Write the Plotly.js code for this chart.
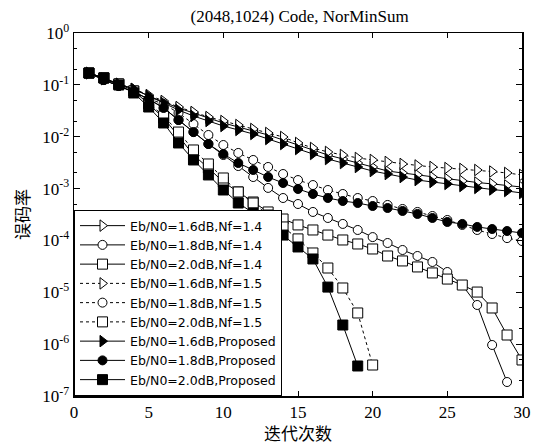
<!DOCTYPE html>
<html>
<head>
<meta charset="utf-8">
<script src="https://cdn.plot.ly/plotly-3.0.1.min.js"></script>
<style>html,body{margin:0;padding:0;background:#fff;}#chart{width:539px;height:445px;}</style>
</head>
<body>
<div id="chart"></div>
<script>
// iteration numbers
const iters30 = [1,2,3,4,5,6,7,8,9,10,11,12,13,14,15,16,17,18,19,20,21,22,23,24,25,26,27,28,29,30];
const iters29 = iters30.slice(0, 29);
const iters20 = iters30.slice(0, 20);
const iters19 = iters30.slice(0, 19);

// BER series
const nf14_16 = [0.169,0.130,0.104,0.0832,0.0610,0.0468,0.0358,0.0287,0.0230,0.0184,0.0154,0.0129,0.0108,0.00865,0.00692,0.00555,0.00444,0.00372,0.00311,0.00261,0.00218,0.00200,0.00183,0.00167,0.00153,0.00140,0.00131,0.00123,0.00115,0.00107];
const nf14_18 = [0.169,0.124,0.0951,0.0728,0.0534,0.0358,0.0210,0.0123,0.00724,0.00444,0.00272,0.00167,0.00103,0.000658,0.000504,0.000354,0.000271,0.000208,0.000159,0.000116,8.92e-5,6.54e-5,5.01e-5,3.84e-5,2.46e-5,1.38e-5,5.69e-6,9.63e-7,1.86e-7];
const nf14_20 = [0.169,0.136,0.104,0.0762,0.0428,0.0230,0.0103,0.00444,0.00249,0.00134,0.000859,0.000551,0.000354,0.000259,0.000199,0.000159,0.000127,0.000102,8.54e-5,6.84e-5,5.01e-5,4.02e-5,3.08e-5,2.36e-5,1.80e-5,1.38e-5,1.01e-5,4.98e-6,1.50e-6,4.95e-7];
const nf15_16 = [0.169,0.130,0.104,0.0832,0.0637,0.0489,0.0374,0.0300,0.0240,0.0201,0.0168,0.0141,0.0118,0.00988,0.00757,0.00606,0.00508,0.00444,0.00389,0.00356,0.00326,0.00298,0.00279,0.00261,0.00249,0.00239,0.00228,0.00213,0.00200,0.00183];
const nf15_18 = [0.169,0.124,0.0951,0.0728,0.0534,0.0428,0.0287,0.0176,0.0108,0.00692,0.00486,0.00356,0.00261,0.00191,0.00146,0.00117,0.000939,0.000786,0.000658,0.000576,0.000483,0.000404,0.000354,0.000296,0.000248,0.000199,0.000159,0.000133,0.000111,9.75e-5];
const nf15_20 = [0.169,0.136,0.104,0.0762,0.0447,0.0251,0.0123,0.00555,0.00298,0.00160,0.000859,0.000527,0.000309,0.000182,0.000107,5.73e-5,2.94e-5,1.21e-5,3.99e-6,3.96e-7];
const prop_16 = [0.169,0.130,0.104,0.0832,0.0610,0.0447,0.0327,0.0251,0.0201,0.0161,0.0135,0.0113,0.00904,0.00724,0.00580,0.00465,0.00372,0.00311,0.00261,0.00218,0.00191,0.00167,0.00146,0.00134,0.00123,0.00112,0.00103,0.000960,0.000898,0.000822];
const prop_18 = [0.169,0.124,0.0951,0.0728,0.0534,0.0358,0.0210,0.0123,0.00724,0.00465,0.00311,0.00228,0.00167,0.00128,0.000982,0.000786,0.000658,0.000576,0.000527,0.000461,0.000422,0.000370,0.000324,0.000271,0.000227,0.000208,0.000182,0.000166,0.000152,0.000139];
const prop_20 = [0.169,0.136,0.0993,0.0697,0.0374,0.0184,0.00757,0.00356,0.00183,0.000939,0.000527,0.000338,0.000208,0.000127,7.48e-5,4.39e-5,1.26e-5,2.34e-6,3.79e-7];

const names = [
  'Eb/N0=1.6dB,Nf=1.4','Eb/N0=1.8dB,Nf=1.4','Eb/N0=2.0dB,Nf=1.4',
  'Eb/N0=1.6dB,Nf=1.5','Eb/N0=1.8dB,Nf=1.5','Eb/N0=2.0dB,Nf=1.5',
  'Eb/N0=1.6dB,Proposed','Eb/N0=1.8dB,Proposed','Eb/N0=2.0dB,Proposed'
];

// y tick labels
const yTickVals = [1, 1e-1, 1e-2, 1e-3, 1e-4, 1e-5, 1e-6, 1e-7];
const yTickText = ['10<sup>0</sup>','10<sup>-1</sup>','10<sup>-2</sup>','10<sup>-3</sup>','10<sup>-4</sup>','10<sup>-5</sup>','10<sup>-6</sup>','10<sup>-7</sup>'];

function tr(x, y, name, symbol, filled, dash, size) {
  return {
    x: x, y: y, name: name, type: 'scatter', mode: 'lines+markers',
    line: {color: '#000', width: 1, dash: dash},
    marker: {symbol: symbol, size: size, color: filled ? '#000' : '#fff',
             line: {color: '#000', width: 1}}
  };
}

const data = [
  tr(iters30, nf14_16, names[0], 'triangle-right', false, 'solid', 10),
  tr(iters29, nf14_18, names[1], 'circle', false, 'solid', 9),
  tr(iters30, nf14_20, names[2], 'square', false, 'solid', 10),
  tr(iters30, nf15_16, names[3], 'triangle-right', false, 'dot', 10),
  tr(iters30, nf15_18, names[4], 'circle', false, 'dot', 9),
  tr(iters20, nf15_20, names[5], 'square', false, 'dot', 10),
  tr(iters30, prop_16, names[6], 'triangle-right', true, 'solid', 10),
  tr(iters30, prop_18, names[7], 'circle', true, 'solid', 9),
  tr(iters19, prop_20, names[8], 'square', true, 'solid', 10)
];

const serif = 'Liberation Serif, Times New Roman, serif';
const cjk = 'Noto Sans CJK SC, sans-serif';
const layout = {
  width: 539, height: 445,
  margin: {l: 74, r: 17, t: 33, b: 49},
  paper_bgcolor: '#fff', plot_bgcolor: '#fff',
  showlegend: true,
  title: {text: '(2048,1024) Code, NorMinSum', font: {family: serif, size: 17, color: '#000'},
          x: 0.556, xanchor: 'center', y: 0.965, yanchor: 'middle'},
  xaxis: {
    range: [0, 30], dtick: 5, tick0: 0,
    showline: true, linecolor: '#000', linewidth: 1.5, mirror: 'ticks',
    ticks: 'inside', ticklen: 5, tickcolor: '#000',
    showgrid: false, zeroline: false,
    tickfont: {family: serif, size: 17, color: '#000'},
    title: {text: '迭代次数', font: {family: cjk, size: 17, color: '#000'}, standoff: 6}
  },
  yaxis: {
    type: 'log', range: [-7, 0],
    tickmode: 'array', tickvals: yTickVals, ticktext: yTickText,
    showline: true, linecolor: '#000', linewidth: 1.5, mirror: 'ticks',
    ticks: 'inside', ticklen: 6, tickcolor: '#000',
    minor: {ticks: 'inside', ticklen: 3, tickcolor: '#000', showgrid: false},
    showgrid: false, zeroline: false,
    tickfont: {family: serif, size: 17, color: '#000'},
    title: {text: '误码率', font: {family: cjk, size: 17, color: '#000'}, standoff: 8}
  },
  legend: {
    x: 0, y: 0, xanchor: 'left', yanchor: 'bottom',
    bgcolor: '#fff', bordercolor: '#000', borderwidth: 1,
    font: {family: 'DejaVu Sans, sans-serif', size: 12.5, color: '#000'},
    tracegroupgap: 0, itemwidth: 45
  }
};

Plotly.newPlot('chart', data, layout, {displayModeBar: false, staticPlot: true});
</script>
</body>
</html>
